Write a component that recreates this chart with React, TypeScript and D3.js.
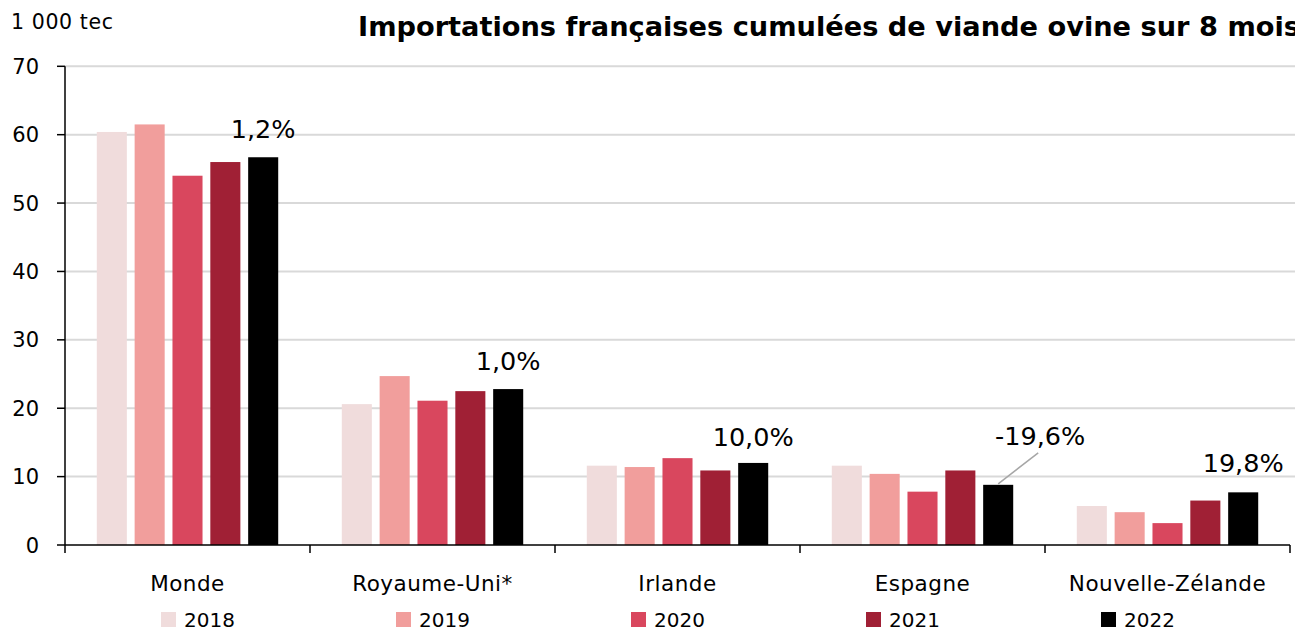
import React from "react";
import * as d3 from "d3";

const categories = ["Monde", "Royaume-Uni*", "Irlande", "Espagne", "Nouvelle-Zélande"];
const years = ["2018", "2019", "2020", "2021", "2022"];
const v2018 = [60.4, 20.6, 11.6, 11.6, 5.7];
const v2019 = [61.5, 24.7, 11.4, 10.4, 4.8];
const v2020 = [54.0, 21.1, 12.7, 7.8, 3.2];
const v2021 = [56.0, 22.5, 10.9, 10.9, 6.5];
const v2022 = [56.7, 22.8, 12.0, 8.8, 7.7];
const changeLabels = ["1,2%", "1,0%", "10,0%", "-19,6%", "19,8%"];
const yTicks = [0, 10, 20, 30, 40, 50, 60, 70];
const colors = ["#f0dcdc", "#f19e9c", "#d9475e", "#a02035", "#000000"];
const series = [v2018, v2019, v2020, v2021, v2022];

const FONT = "'DejaVu Sans', 'Open Sans', sans-serif";

export default function App() {
  const W = 1295, H = 630;
  const left = 65, right = 1290, top = 66.3, bottom = 545;
  const x0 = d3.scaleBand<string>().domain(categories).range([left, right]).paddingInner(0).paddingOuter(0);
  const x1 = d3.scaleBand<string>().domain(years).range([0, x0.bandwidth()]).paddingInner(0.206).paddingOuter(0.84);
  const y = d3.scaleLinear().domain([0, 70]).range([bottom, top]);
  const boundaries = [...categories.map((c) => x0(c)!), right];
  const labelOffsets = [19.5, 19, 17, 40, 20];

  return (
    <svg width={W} height={H} style={{ position: "absolute", left: 0, top: 0, background: "#fff" }} fontFamily={FONT}>
      <text x={11} y={29} fontSize={20.5} letterSpacing={0.6} fill="#000">1 000 tec</text>
      <text x={358} y={36} fontSize={26} fontWeight={700} fill="#000" textLength={942} lengthAdjust="spacingAndGlyphs">
        Importations françaises cumulées de viande ovine sur 8 mois
      </text>
      {yTicks.map((t) => (
        <g key={t}>
          {t > 0 && <line x1={left} x2={W} y1={y(t)} y2={y(t)} stroke="#d9d9d9" strokeWidth={2} />}
          <line x1={57} x2={left} y1={y(t)} y2={y(t)} stroke="#000" strokeWidth={1.5} />
          <text x={39} y={y(t)} dy="0.36em" textAnchor="end" fontSize={21}>{t}</text>
        </g>
      ))}
      {categories.map((c, ci) => (
        <g key={c} transform={`translate(${x0(c)},0)`}>
          {years.map((yr, si) => (
            <rect key={yr} x={x1(yr)} y={y(series[si][ci])} width={x1.bandwidth()} height={bottom - y(series[si][ci])} fill={colors[si]} />
          ))}
        </g>
      ))}
      <line x1={left} x2={left} y1={top} y2={bottom} stroke="#000" strokeWidth={1.5} />
      <line x1={left} x2={right} y1={bottom} y2={bottom} stroke="#000" strokeWidth={1.5} />
      {boundaries.map((b, i) => (
        <line key={i} x1={b} x2={b} y1={bottom} y2={bottom + 8} stroke="#000" strokeWidth={1.5} />
      ))}
      {categories.map((c) => (
        <text key={c} x={x0(c)! + x0.bandwidth() / 2} y={590.5} textAnchor="middle" fontSize={21.5} letterSpacing={0.5}>{c}</text>
      ))}
      {categories.map((c, ci) => {
        const bx = x0(c)! + x1("2022")! + x1.bandwidth() / 2;
        const by = y(v2022[ci]);
        if (ci === 3) {
          return (
            <g key={c}>
              <line x1={bx} x2={bx + 40} y1={by - 1} y2={by - 32} stroke="#a6a6a6" strokeWidth={1.5} />
              <text x={bx + 42} y={by - labelOffsets[ci]} textAnchor="middle" fontSize={25.5}>{changeLabels[ci]}</text>
            </g>
          );
        }
        return (
          <text key={c} x={bx} y={by - labelOffsets[ci]} textAnchor="middle" fontSize={25.5}>{changeLabels[ci]}</text>
        );
      })}
      {years.map((yr, i) => {
        const lx = 161 + i * 235;
        return (
          <g key={yr}>
            <rect x={lx} y={612} width={15} height={15} fill={colors[i]} />
            <text x={lx + 23} y={626.5} fontSize={20}>{yr}</text>
          </g>
        );
      })}
    </svg>
  );
}
